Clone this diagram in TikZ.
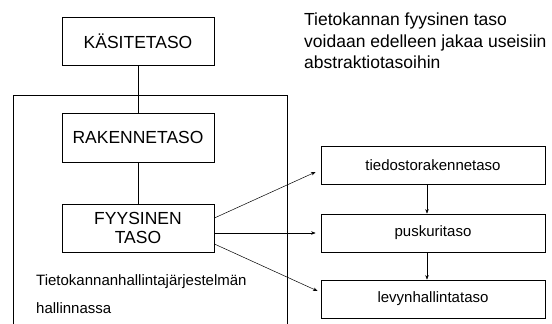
\documentclass[tikz,border=0pt]{standalone}
\usepackage{fontspec}
\setmainfont{Liberation Sans}
\usetikzlibrary{arrows.meta, positioning}

\begin{document}
\begin{tikzpicture}[
  x=1pt, y=-1pt,
  box/.style={draw, line width=0.8pt, inner sep=0pt, align=center,
    font=\fontsize{17.5}{19.5}\selectfont},
  sbox/.style={draw, line width=0.8pt, minimum width=224pt, minimum height=38pt,
    inner sep=0pt, font=\fontsize{15}{18}\selectfont},
  arr/.style={-{Stealth[length=4.5pt, width=3.5pt]}, line width=0.5pt},
  txt/.style={inner sep=0pt, anchor=base west, font=\fontsize{15}{18}\selectfont}
]
  \useasboundingbox (0,0) rectangle (552,324);

  % left column
  \node[box, minimum width=152pt, minimum height=48pt] (kasite) at (138,41) {KÄSITETASO};
  \node[box, minimum width=152pt, minimum height=49pt] (rakenne) at (138,137.5) {RAKENNETASO};
  \node[box, minimum width=152pt, minimum height=48pt] (fyys) at (138,228) {FYYSINEN\\TASO};
  \draw[line width=0.8pt] (kasite) -- (rakenne);
  \draw[line width=0.8pt] (rakenne) -- (fyys);

  % DBMS frame, open at the bottom
  \draw[line width=0.8pt] (13,324) |- (287,95) -- (287,324);
  \node[txt] (hallinta1) at (36,285) {Tietokannanhallintajärjestelmän};
  \node[txt] (hallinta2) at (36,313) {hallinnassa};

  % physical sub-levels
  \node[sbox] (tied) at (433,165.5) {tiedostorakennetaso};
  \node[sbox] (pusk) at (433,233) {puskuritaso};
  \node[sbox] (levy) at (433,299) {levynhallintataso};
  \draw[arr] ([xshift=-6pt]tied.south) -- ([xshift=-6pt]pusk.north);
  \draw[arr] ([xshift=-6pt]pusk.south) -- ([xshift=-6pt]levy.north);

  \draw[arr] ([yshift=10pt]fyys.east) -- ([xshift=-5pt, yshift=-6.5pt]tied.west);
  \draw[arr] ([yshift=-5pt]fyys.east) -- ([xshift=-5pt]pusk.west);
  \draw[arr] ([yshift=-16pt]fyys.east) -- ([xshift=-3pt, yshift=8pt]levy.west);

  \node[inner sep=0pt, anchor=north west, align=left,
    font=\fontsize{17.5}{21.5}\selectfont] (note) at (304,13)
    {Tietokannan fyysinen taso\\voidaan edelleen jakaa useisiin\\abstraktiotasoihin};
\end{tikzpicture}
\end{document}
